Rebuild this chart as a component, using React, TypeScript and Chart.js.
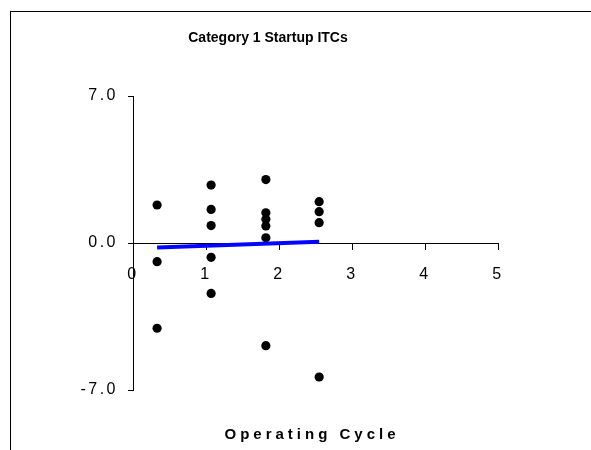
import React, { useEffect, useRef } from "react";
import { Chart, registerables } from "chart.js";

Chart.register(...registerables);

const chartTitle = "Category 1 Startup ITCs";
const xAxisTitle = "Operating Cycle";

const pointX = [
  0.33, 0.33, 0.33,
  1.07, 1.07, 1.07, 1.07, 1.07,
  1.82, 1.82, 1.82, 1.82, 1.82, 1.82,
  2.55, 2.55, 2.55, 2.55,
];
const pointY = [
  1.81, -0.89, -4.06,
  2.76, 1.6, 0.83, -0.68, -2.4,
  3.02, 1.44, 1.13, 0.81, 0.25, -4.89,
  1.97, 1.49, 0.97, -6.38,
];
const trendX = [0.33, 2.55];
const trendY = [-0.22, 0.06];

const xMin = 0;
const xMax = 5;
const xStep = 1;
const yMin = -7;
const yMax = 7;
const yStep = 7;

const FONT = '"Liberation Sans", Arial, sans-serif';

const decorPlugin = {
  id: "decor",
  beforeDraw(chart: any) {
    const ctx = chart.ctx;
    ctx.save();
    ctx.fillStyle = "#ffffff";
    ctx.fillRect(0, 0, chart.width, chart.height);
    ctx.restore();
    (ctx as any).letterSpacing = "2.5px";
  },
  afterDraw(chart: any) {
    const ctx = chart.ctx;
    ctx.save();
    (ctx as any).letterSpacing = "0px";
    ctx.strokeStyle = "#000000";
    ctx.lineWidth = 1;
    ctx.strokeRect(10.5, 11.5, 700, 600);
    ctx.fillStyle = "#000000";
    ctx.textAlign = "center";
    ctx.textBaseline = "alphabetic";
    ctx.font = `bold 14px ${FONT}`;
    ctx.fillText(chartTitle, 268, 41.5);
    (ctx as any).letterSpacing = "4px";
    ctx.font = `bold 15px ${FONT}`;
    ctx.fillText(xAxisTitle, 312, 439);
    ctx.restore();
    (ctx as any).letterSpacing = "0px";
  },
};

export default function App() {
  const canvasRef = useRef<HTMLCanvasElement | null>(null);

  useEffect(() => {
    if (!canvasRef.current) return;
    const points = pointX.map((x, i) => ({ x, y: pointY[i] }));
    const trend = trendX.map((x, i) => ({ x, y: trendY[i] }));
    const chart = new Chart(canvasRef.current, {
      type: "scatter",
      data: {
        datasets: [
          {
            type: "line",
            data: trend,
            borderColor: "#0505ff",
            borderWidth: 4,
            borderCapStyle: "butt",
            pointRadius: 0,
            showLine: true,
            fill: false,
            tension: 0,
          } as any,
          {
            data: points,
            backgroundColor: "#000000",
            borderColor: "#000000",
            borderWidth: 0,
            pointRadius: 4.6,
            pointStyle: "circle",
          },
        ],
      },
      options: {
        animation: false,
        responsive: false,
        events: [],
        layout: { padding: { left: 73, right: 93, top: 96, bottom: 60 } },
        plugins: {
          legend: { display: false },
          tooltip: { enabled: false },
          title: { display: false },
        },
        scales: {
          x: {
            type: "linear",
            position: { y: 0 } as any,
            min: xMin,
            max: xMax,
            afterFit: (s: any) => {
              s.height = 0;
            },
            ticks: {
              stepSize: xStep,
              color: "#000000",
              font: { family: FONT, size: 16 },
              padding: 16,
              maxRotation: 0,
              callback: (v: any) => String(v),
            },
            grid: {
              display: true,
              drawOnChartArea: false,
              drawTicks: true,
              tickLength: 6,
              color: "#000000",
            },
            border: { display: true, color: "#000000", width: 1 },
          },
          y: {
            type: "linear",
            position: "left",
            min: yMin,
            max: yMax,
            afterFit: (s: any) => {
              s.width = 60;
            },
            ticks: {
              stepSize: yStep,
              color: "#000000",
              font: { family: FONT, size: 16 },
              padding: 10,
              callback: (v: any) => Number(v).toFixed(1),
            },
            grid: {
              display: true,
              drawOnChartArea: false,
              drawTicks: true,
              tickLength: 5,
              color: "#000000",
            },
            border: { display: true, color: "#000000", width: 1 },
          },
        },
      },
      plugins: [decorPlugin],
    });
    return () => chart.destroy();
  }, []);

  return (
    <div style={{ position: "absolute", left: 0, top: 0, width: 591, height: 450 }}>
      <canvas ref={canvasRef} width={591} height={450} />
    </div>
  );
}
